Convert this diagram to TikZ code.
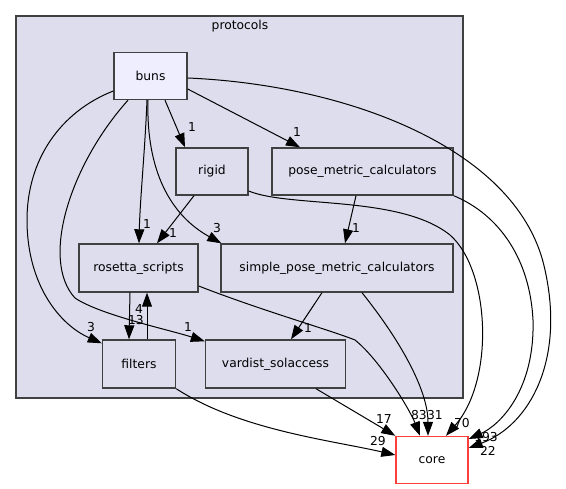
\documentclass[tikz,border=0pt]{standalone}
\usepackage{fontspec}
\setmainfont{DejaVu Sans}
\usetikzlibrary{arrows.meta}
\definecolor{clfill}{HTML}{DDDDEE}
\definecolor{bunsfill}{HTML}{EEEEFF}
\definecolor{bordergray}{HTML}{404040}
\definecolor{corered}{RGB}{255,60,60}
\tikzset{
  dirbox/.style={draw=bordergray, line width=1.4pt, fill=clfill, minimum height=47pt, inner sep=0pt, font=\fontsize{12.3}{14}\selectfont},
  edge/.style={draw=black, line width=1pt, -{Triangle[length=14pt,width=10pt]}},
  elabel/.style={inner sep=0pt, font=\fontsize{12.3}{14}\selectfont},
}
\begin{document}
\begin{tikzpicture}[x=1pt,y=-1pt]
\useasboundingbox (0,0) rectangle (566,489);
% cluster
\draw[draw=bordergray, line width=1.4pt, fill=clfill] (16,16) rectangle (463,398);
\node[elabel] (clabel) at (240,26.5) {protocols};
% nodes
\node[dirbox, fill=bunsfill, minimum width=73pt] (buns) at (150.5,76) {buns};
\node[dirbox, minimum width=72pt] (rigid) at (212,171.5) {rigid};
\node[dirbox, minimum width=181pt] (pose) at (362.5,171.5) {pose\_metric\_calculators};
\node[dirbox, minimum width=119pt, minimum height=48pt] (rosetta) at (138.5,268) {rosetta\_scripts};
\node[dirbox, minimum width=232pt, minimum height=48pt] (simple) at (337,268) {simple\_pose\_metric\_calculators};
\node[dirbox, minimum width=73pt, minimum height=48pt] (filters) at (139,364) {filters};
\node[dirbox, minimum width=140pt, minimum height=48pt] (vardist) at (275.5,364) {vardist\_solaccess};
\node[dirbox, draw=corered, fill=white, minimum width=72pt] (core) at (432,460) {core};
% edges
\draw[edge] ([xshift=14.5]buns.south) -- ([xshift=-27]rigid.north);
\draw[edge] ([yshift=-13]buns.east) -- ([xshift=-62.5]pose.north);
\draw[edge] ([xshift=-3.5]buns.south) .. controls (145,150) and (140,200) .. ([xshift=0.5]rosetta.north);
\draw[edge] ([xshift=-2.5]buns.south) .. controls (146,170) and (170,215) .. ([xshift=1]simple.north west);
\draw[edge] ([yshift=-15]buns.west) .. controls (60,112) and (27,160) .. (27,220) .. controls (27,285) and (60,325) .. ([yshift=-4]filters.north west);
\draw[edge] ([xshift=-22.5]buns.south) .. controls (70,165) and (40,260) .. (75,298) .. controls (100,315) and (170,330) .. ([yshift=-2]vardist.north west);
\draw[edge] ([yshift=-2]buns.east) .. controls (350,85) and (520,150) .. (545,270) .. controls (565,360) and (530,425) .. ([yshift=12]core.east);
\draw[edge] (pose.south east) .. controls (500,215) and (530,260) .. (533,320) .. controls (535,390) and (500,425) .. ([yshift=21]core.east);
\draw[edge] ([xshift=-18]rigid.south) -- ([xshift=18.5]rosetta.north);
\draw[edge] ([yshift=-19.5]rigid.east) .. controls (290,208) and (400,195) .. (450,235) .. controls (490,270) and (495,380) .. ([xshift=14]core.north);
\draw[edge] ([xshift=-6.5]pose.south) -- ([xshift=8]simple.north);
\draw[edge] ([xshift=-8.5]rosetta.south) -- ([xshift=-10]filters.north);
\draw[edge] ([xshift=8]filters.north) -- ([xshift=8.5]rosetta.south);
\draw[edge] ([yshift=-18]rosetta.east) .. controls (260,310) and (330,330) .. (355,340) .. controls (380,360) and (410,410) .. ([xshift=-12]core.north);
\draw[edge] ([xshift=-15]simple.south) -- ([xshift=15.5]vardist.north);
\draw[edge] ([xshift=25]simple.south) .. controls (400,340) and (428,390) .. ([xshift=-4]core.north);
\draw[edge] ([xshift=40.5]vardist.south) -- (core.north west);
\draw[edge] (filters.south east) .. controls (240,430) and (330,440) .. ([yshift=5]core.west);
% edge labels
\node[elabel] (l1) at (192,127) {1};
\node[elabel] (l2) at (297,132) {1};
\node[elabel] (l3) at (147,224) {1};
\node[elabel] (l4) at (217,228) {3};
\node[elabel] (l5) at (91,327) {3};
\node[elabel] (l6) at (188,327) {1};
\node[elabel] (l7) at (488,451) {22};
\node[elabel] (l8) at (486,437) {193};
\node[elabel] (l9) at (173,233) {1};
\node[elabel] (l10) at (462,423) {70};
\node[elabel] (l11) at (356,228) {1};
\node[elabel] (l12) at (136,320) {13};
\node[elabel] (l13) at (139,309) {4};
\node[elabel] (l14) at (419,415) {83};
\node[elabel] (l15) at (308,328) {1};
\node[elabel] (l16) at (435,415) {31};
\node[elabel] (l17) at (384,419) {17};
\node[elabel] (l18) at (378,441) {29};
\end{tikzpicture}
\end{document}
